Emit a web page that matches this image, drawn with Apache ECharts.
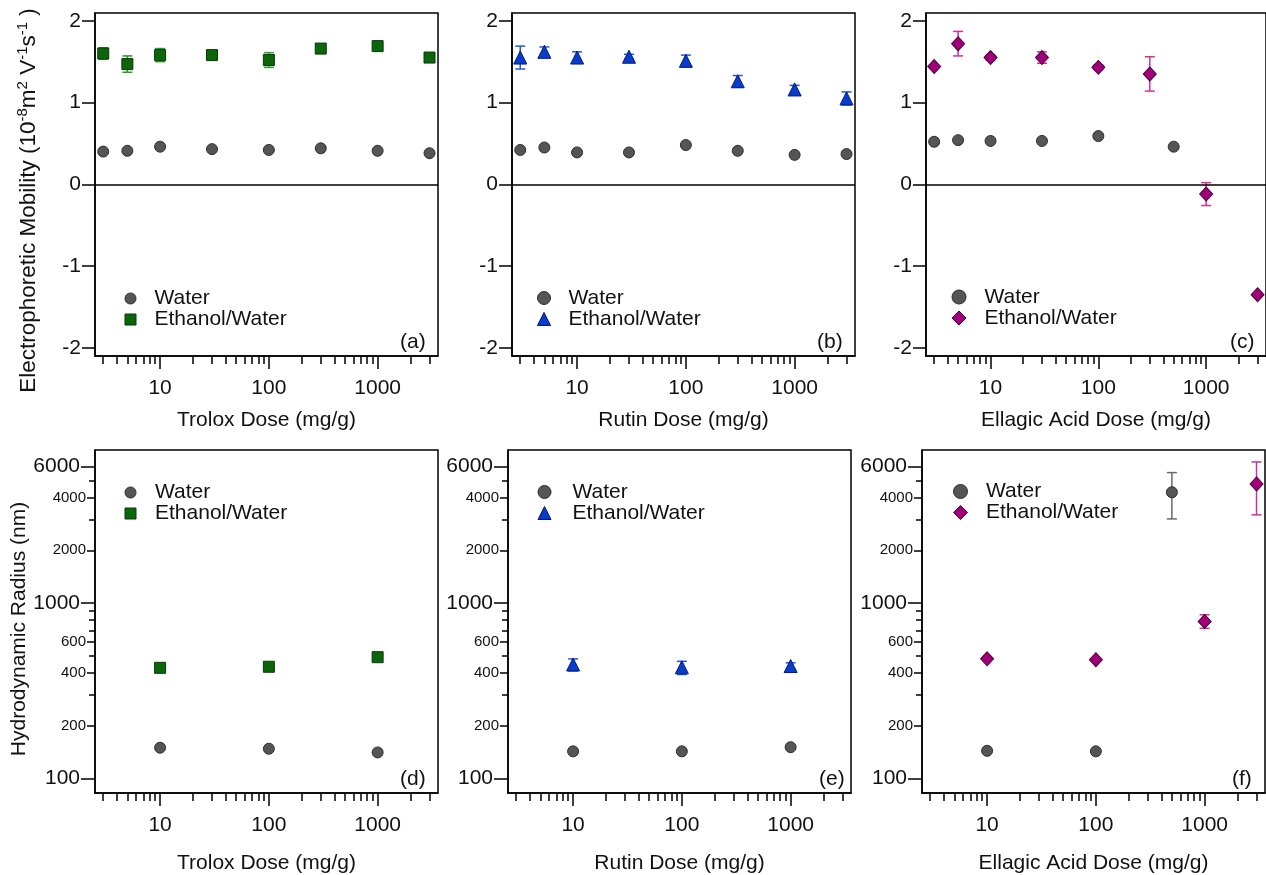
<!DOCTYPE html>
<html><head><meta charset="utf-8">
<script src="https://cdn.jsdelivr.net/npm/echarts@6/dist/echarts.min.js"></script>
<style>html,body{margin:0;padding:0;background:#fff}#c{width:1266px;height:875px}</style>
</head><body><div id="c"></div><script>
// ---------------- DATA ----------------
const epmDoses = [3, 5, 10, 30, 100, 300, 1000, 3000];
const troloxEpmWater = [0.40, 0.41, 0.46, 0.43, 0.42, 0.44, 0.41, 0.38];
const troloxEpmEth = [1.60, 1.47, 1.58, 1.58, 1.52, 1.66, 1.69, 1.55];
const troloxEpmEthErr = [0.07, 0.10, 0.08, 0.04, 0.09, 0.03, 0.03, 0.03];
const rutinEpmWater = [0.42, 0.45, 0.39, 0.39, 0.48, 0.41, 0.36, 0.37];
const rutinEpmEth = [1.55, 1.62, 1.55, 1.56, 1.51, 1.26, 1.16, 1.05];
const rutinEpmEthErr = [0.14, 0.06, 0.07, 0.03, 0.07, 0.07, 0.05, 0.08];
const ellagicEpmWaterDoses = [3, 5, 10, 30, 100, 500];
const ellagicEpmWater = [0.52, 0.54, 0.53, 0.53, 0.59, 0.46];
const ellagicEpmEth = [1.44, 1.72, 1.55, 1.55, 1.43, 1.35, -0.12, -1.35];
const ellagicEpmEthErr = [0, 0.15, 0.03, 0.07, 0.03, 0.21, 0.14, 0];

const rhDoses = [10, 100, 1000];
const troloxRhWater = [150, 148, 141];
const troloxRhEth = [428, 434, 492];
const rutinRhWater = [143, 143, 151];
const rutinRhEth = [447, 431, 438];
const rutinRhEthLow = [411, 392, 419];
const rutinRhEthHigh = [481, 466, 457];
const ellagicRhWaterDoses = [10, 100, 500];
const ellagicRhWater = [144, 143, 4285];
const ellagicRhWaterLow = [null, null, 3020];
const ellagicRhWaterHigh = [null, null, 5546];
const ellagicRhEthDoses = [10, 100, 1000, 3000];
const ellagicRhEth = [482, 476, 787, 4776];
const ellagicRhEthLow = [null, null, 718, 3185];
const ellagicRhEthHigh = [null, null, 859, 6379];

const xMajorTicks = [10, 100, 1000];
const xMinorTicks = [3, 4, 5, 6, 7, 8, 9, 20, 30, 40, 50, 60, 70, 80, 90, 200, 300, 400, 500, 600, 700, 800, 900, 2000, 3000];
const epmTicks = [-2, -1, 0, 1, 2];
const rhMajorTicks = [100, 1000, 6000];
const rhMidTicks = [200, 400, 600, 2000, 4000];
const rhMinorTicks = [300, 500, 700, 800, 900, 3000, 5000];

const xTitles = ['Trolox Dose (mg/g)', 'Rutin Dose (mg/g)', 'Ellagic Acid Dose (mg/g)'];
const panelLabels = ['(a)', '(b)', '(c)', '(d)', '(e)', '(f)'];
const legendNames = ['Water', 'Ethanol/Water'];

// ---------------- STYLE ----------------
const FONT = '"Liberation Sans", Arial, Helvetica, sans-serif';
const TXT = '#111';
const WATER = {color: '#555555', borderColor: '#2e2e2e', borderWidth: 1, opacity: 1};
const ETH = [
  {color: '#0b660b', borderColor: '#053a05', err: '#2a9a2a', symbol: 'rect', size: 11, leg: 11},
  {color: '#0a3ccc', borderColor: '#001a7a', err: '#2457d8', symbol: 'triangle', size: 13, leg: 13},
  {color: '#a0007a', borderColor: '#4f003c', err: '#cc3399', symbol: 'diamond', size: [13, 14], leg: 14}
];
const X_MIN = 2.52, X_MAX = 3590;
const plainFmt = v => String(Math.round(v * 1000) / 1000);

const gridBoxes = [
  [95, 13], [512, 13], [926, 13], [95, 450], [508, 450], [922, 450]
];
const grid = gridBoxes.map(b => ({left: b[0], top: b[1], width: 343, height: 343, show: true,
  borderColor: '#000', borderWidth: 1.5, backgroundColor: 'transparent'}));

const xAxis = [], yAxis = [], series = [], legend = [], title = [];
const lineStyle = {color: '#000', width: 1.5};

function errRender(params, api) {
  const x = api.value(0), lo = api.value(1), hi = api.value(2);
  const a = api.coord([x, lo]), b = api.coord([x, hi]);
  const hw = 5;
  const style = {stroke: api.visual('color'), lineWidth: 1.5, fill: null};
  return {type: 'group', children: [
    {type: 'line', shape: {x1: a[0], y1: a[1], x2: b[0], y2: b[1]}, style},
    {type: 'line', shape: {x1: a[0] - hw, y1: a[1], x2: a[0] + hw, y2: a[1]}, style},
    {type: 'line', shape: {x1: b[0] - hw, y1: b[1], x2: b[0] + hw, y2: b[1]}, style}
  ]};
}

for (let g = 0; g < 6; g++) {
  const top = g < 3;
  const col = g % 3;
  const xi = xAxis.length;
  xAxis.push({type: 'log', logBase: 10, gridIndex: g, min: X_MIN, max: X_MAX, position: 'bottom',
    name: xTitles[col], nameLocation: 'middle', nameGap: top ? 54 : 60,
    nameTextStyle: {fontSize: 21, color: TXT, fontFamily: FONT},
    axisLine: {show: true, onZero: false, lineStyle},
    axisTick: {show: true, length: 13, customValues: xMajorTicks, lineStyle},
    axisLabel: {show: true, customValues: xMajorTicks, formatter: plainFmt, fontSize: 21, color: TXT, fontFamily: FONT, margin: 22},
    splitLine: {show: false}, minorTick: {show: false}, minorSplitLine: {show: false}});
  xAxis.push({type: 'log', logBase: 10, gridIndex: g, min: X_MIN, max: X_MAX, position: 'bottom',
    axisLine: {show: false, onZero: false},
    axisTick: {show: true, length: 8, customValues: xMinorTicks, lineStyle},
    axisLabel: {show: false}, splitLine: {show: false}});
  const yi = yAxis.length;
  if (top) {
    yAxis.push({type: 'value', gridIndex: g, min: -2.1, max: 2.095, position: 'left',
      name: g === 0 ? '{n|Electrophoretic Mobility (10}{s|-8}{n|m}{s|2}{n| V}{s|-1}{n|s}{s|-1}{n| )}' : '',
      nameLocation: 'middle', nameRotate: 90, nameGap: 53,
      nameTextStyle: {color: TXT, fontFamily: FONT, padding: [0, 32, 0, 0], rich: {
        n: {fontSize: 22.5, lineHeight: 27, color: TXT, fontFamily: FONT},
        s: {fontSize: 15, lineHeight: 15, verticalAlign: 'top', color: TXT, fontFamily: FONT}}},
      axisLine: {show: true, onZero: false, lineStyle},
      axisTick: {show: true, length: 13, customValues: epmTicks, lineStyle},
      axisLabel: {customValues: epmTicks, fontSize: 21, color: TXT, fontFamily: FONT, margin: 14},
      splitLine: {show: false}});
  } else {
    yAxis.push({type: 'log', logBase: 10, gridIndex: g, min: 82.8, max: 7460, position: 'left',
      name: g === 3 ? 'Hydrodynamic Radius (nm)' : '', nameLocation: 'middle', nameRotate: 90, nameGap: 54,
      nameTextStyle: {fontSize: 21, color: TXT, fontFamily: FONT, padding: [0, 15, 0, 0]},
      axisLine: {show: true, onZero: false, lineStyle},
      axisTick: {show: true, length: 14, customValues: rhMajorTicks, lineStyle},
      axisLabel: {customValues: rhMajorTicks, formatter: plainFmt, fontSize: 21, color: TXT, fontFamily: FONT, margin: 15},
      splitLine: {show: false}});
    yAxis.push({type: 'log', logBase: 10, gridIndex: g, min: 82.8, max: 7460, position: 'left',
      axisLine: {show: false, onZero: false},
      axisTick: {show: true, length: 8, customValues: rhMidTicks, lineStyle},
      axisLabel: {customValues: rhMidTicks, formatter: plainFmt, fontSize: 15, color: TXT, fontFamily: FONT, margin: 9},
      splitLine: {show: false}});
    yAxis.push({type: 'log', logBase: 10, gridIndex: g, min: 82.8, max: 7460, position: 'left',
      axisLine: {show: false, onZero: false},
      axisTick: {show: true, length: 6, customValues: rhMinorTicks, lineStyle},
      axisLabel: {show: false}, splitLine: {show: false}});
  }

  let wx, wy, ex, ey, errs = [], werrs = [];
  if (g === 0) { wx = epmDoses; wy = troloxEpmWater; ex = epmDoses; ey = troloxEpmEth;
    errs = epmDoses.map((d, i) => [d, troloxEpmEth[i] - troloxEpmEthErr[i], troloxEpmEth[i] + troloxEpmEthErr[i]]); }
  if (g === 1) { wx = epmDoses; wy = rutinEpmWater; ex = epmDoses; ey = rutinEpmEth;
    errs = epmDoses.map((d, i) => [d, rutinEpmEth[i] - rutinEpmEthErr[i], rutinEpmEth[i] + rutinEpmEthErr[i]]); }
  if (g === 2) { wx = ellagicEpmWaterDoses; wy = ellagicEpmWater; ex = epmDoses; ey = ellagicEpmEth;
    errs = epmDoses.map((d, i) => ellagicEpmEthErr[i] > 0 ? [d, ellagicEpmEth[i] - ellagicEpmEthErr[i], ellagicEpmEth[i] + ellagicEpmEthErr[i]] : null).filter(Boolean); }
  if (g === 3) { wx = rhDoses; wy = troloxRhWater; ex = rhDoses; ey = troloxRhEth; }
  if (g === 4) { wx = rhDoses; wy = rutinRhWater; ex = rhDoses; ey = rutinRhEth;
    errs = rhDoses.map((d, i) => [d, rutinRhEthLow[i], rutinRhEthHigh[i]]); }
  if (g === 5) { wx = ellagicRhWaterDoses; wy = ellagicRhWater; ex = ellagicRhEthDoses; ey = ellagicRhEth;
    errs = ellagicRhEthDoses.map((d, i) => ellagicRhEthLow[i] != null ? [d, ellagicRhEthLow[i], ellagicRhEthHigh[i]] : null).filter(Boolean);
    werrs = ellagicRhWaterDoses.map((d, i) => ellagicRhWaterLow[i] != null ? [d, ellagicRhWaterLow[i], ellagicRhWaterHigh[i]] : null).filter(Boolean); }

  const E = ETH[col];
  if (werrs.length) series.push({type: 'custom', name: 'err-w', xAxisIndex: xi, yAxisIndex: yi, z: 1,
    renderItem: errRender, itemStyle: {color: '#6a6a6a'}, data: werrs, silent: true});
  if (errs.length) series.push({type: 'custom', name: 'err-e', xAxisIndex: xi, yAxisIndex: yi, z: 1,
    renderItem: errRender, itemStyle: {color: E.err}, data: errs, silent: true});
  const waterSeries = {type: 'scatter', name: 'Water', xAxisIndex: xi, yAxisIndex: yi, z: 3,
    symbol: 'circle', symbolSize: 11, itemStyle: WATER, data: wx.map((d, i) => [d, wy[i]])};
  if (top) waterSeries.markLine = {silent: true, symbol: ['none', 'none'], label: {show: false},
    lineStyle: {color: '#000', width: 1.5, type: 'solid', opacity: 1}, data: [{yAxis: 0}]};
  series.push(waterSeries);
  series.push({type: 'scatter', name: 'Ethanol/Water', xAxisIndex: xi, yAxisIndex: yi, z: 4,
    symbol: E.symbol, symbolSize: E.size,
    itemStyle: {color: E.color, borderColor: E.borderColor, borderWidth: 1, opacity: 1},
    data: ex.map((d, i) => [d, ey[i]])});

  const legPos = [[130, 298, 154], [543.5, 297.5, 568], [958.5, 296.5, 984], [130, 492, 154.5], [544, 491.5, 572], [960, 491, 985.5]][g];
  const S = E.leg;
  legend.push({orient: 'vertical', left: legPos[0] - S / 2, top: legPos[1] - 10, padding: 0, itemGap: 0,
    itemWidth: S, itemHeight: S, selectedMode: false,
    textStyle: {fontSize: 21, color: TXT, fontFamily: FONT, lineHeight: 20, padding: [0, 0, 0, legPos[2] - legPos[0] - S / 2 - 5]},
    data: [
      {name: legendNames[0], icon: 'circle', itemStyle: {color: WATER.color, borderColor: WATER.borderColor, borderWidth: 1, opacity: 1}},
      {name: legendNames[1], icon: E.symbol, itemStyle: {color: E.color, borderColor: E.borderColor, borderWidth: 1, opacity: 1}}
    ]});
  const lp = [[400, 332], [817, 332], [1230, 332], [400, 769], [819, 769], [1232, 769]][g];
  title.push({text: panelLabels[g], left: lp[0], top: lp[1], padding: 0,
    textStyle: {fontSize: 21, fontWeight: 'normal', color: TXT, fontFamily: FONT}});
}

const chart = echarts.init(document.getElementById('c'), null, {renderer: 'canvas'});
chart.setOption({backgroundColor: '#fff', animation: false, textStyle: {fontFamily: FONT},
  grid, xAxis, yAxis, series, legend, title});
</script></body></html>
